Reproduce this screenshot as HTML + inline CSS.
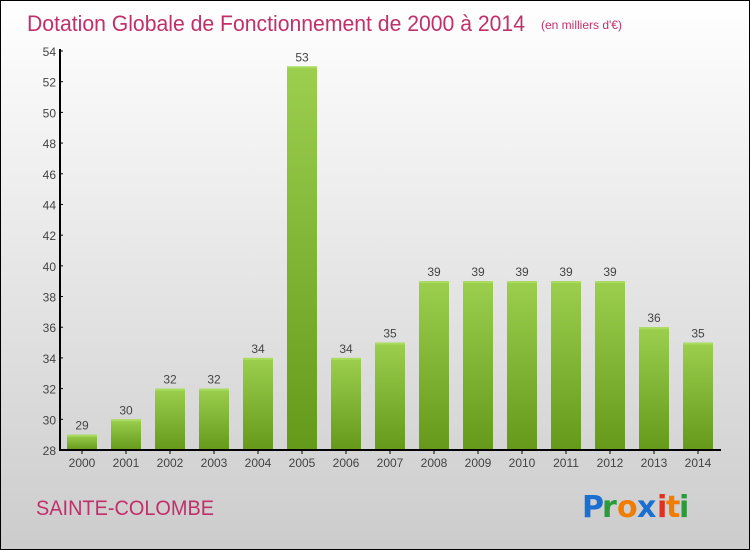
<!DOCTYPE html>
<html><head><meta charset="utf-8"><style>
body{margin:0}
#c{position:relative;width:748px;height:548px;border:1px solid #000;background:linear-gradient(#fff,#ccc);font-family:"Liberation Sans",sans-serif;overflow:hidden}
</style></head><body>
<div id="c">
<svg id="s" width="748" height="548">
<defs><linearGradient id="g" x1="0" y1="0" x2="0" y2="1"><stop offset="0" stop-color="#9ccf4e"/><stop offset="1" stop-color="#64991a"/></linearGradient></defs>
<text x="26" y="30" font-size="22" fill="#c0306a" textLength="498" lengthAdjust="spacingAndGlyphs">Dotation Globale de Fonctionnement de 2000 à 2014</text>
<text x="540" y="28" font-size="12" fill="#c0306a">(en milliers d'€)</text>
<text x="35" y="514" font-size="21" fill="#c0306a" textLength="178" lengthAdjust="spacingAndGlyphs">SAINTE-COLOMBE</text>
<g font-size="30" font-family="'DejaVu Sans',sans-serif" font-weight="bold">
<text x="581" y="516" fill="#1a6fd0">P</text><text x="601" y="516" fill="#2a9a3a">r</text><text x="616" y="516" fill="#f07d00">o</text><text x="636" y="516" fill="#1a6fd0">x</text><text x="656" y="516" fill="#e03020">i</text><text x="665" y="516" fill="#f07d00">t</text><text x="678" y="516" fill="#2a9a3a">i</text>
</g>
<g id="plot"></g>
</svg>
</div>
<script>
const categories=["2000","2001","2002","2003","2004","2005","2006","2007","2008","2009","2010","2011","2012","2013","2014"];
const values=[29,30,32,32,34,53,34,35,39,39,39,39,39,36,35];
const yTicks=[28,30,32,34,36,38,40,42,44,46,48,50,52,54];
const yMin=28,yMax=54,pTop=50,pBottom=449,pLeft=59,pRight=720;
const yS=v=>pBottom-(v-yMin)/(yMax-yMin)*(pBottom-pTop);
const xS=i=>81+i*44;
const ns="http://www.w3.org/2000/svg",plotG=document.getElementById('plot');
function mk(t,a,txt){const e=document.createElementNS(ns,t);for(const k in a)e.setAttribute(k,a[k]);if(txt!=null)e.textContent=txt;plotG.appendChild(e);return e;}
values.forEach((v,i)=>{
 const r=mk('rect',{x:xS(i)-15,y:yS(v),width:30,height:pBottom-yS(v),fill:'url(#g)'});
 
 
 const l=mk('rect',{x:xS(i)-15,y:yS(v),width:30,height:2,fill:'#a8dc5c'});
 
 
 const t=mk('text',{x:xS(i),y:yS(v)-5,'font-size':12,fill:'#444','text-anchor':'middle'},String(v));
 
 
 const c=mk('text',{x:xS(i),y:pBottom+17,'font-size':12,fill:'#444','text-anchor':'middle'},categories[i]);
 
 
 const tk=mk('line',{x1:xS(i),x2:xS(i),y1:pBottom,y2:pBottom+4,stroke:'#000'});
 
 
});
yTicks.forEach(v=>{
 const t=mk('text',{x:pLeft-4,y:yS(v)+5,'font-size':12,fill:'#444','text-anchor':'end'},String(v));
 
 
 const tk=mk('line',{x1:pLeft,x2:pLeft+3,y1:yS(v),y2:yS(v),stroke:'#000'});
 
 
});
const ya=mk('line',{x1:pLeft,x2:pLeft,y1:pTop-2,y2:pBottom+1,stroke:'#000','stroke-width':2});


const xa=mk('line',{x1:pLeft,x2:pRight,y1:pBottom,y2:pBottom,stroke:'#000','stroke-width':2});


</script>
</body></html>
